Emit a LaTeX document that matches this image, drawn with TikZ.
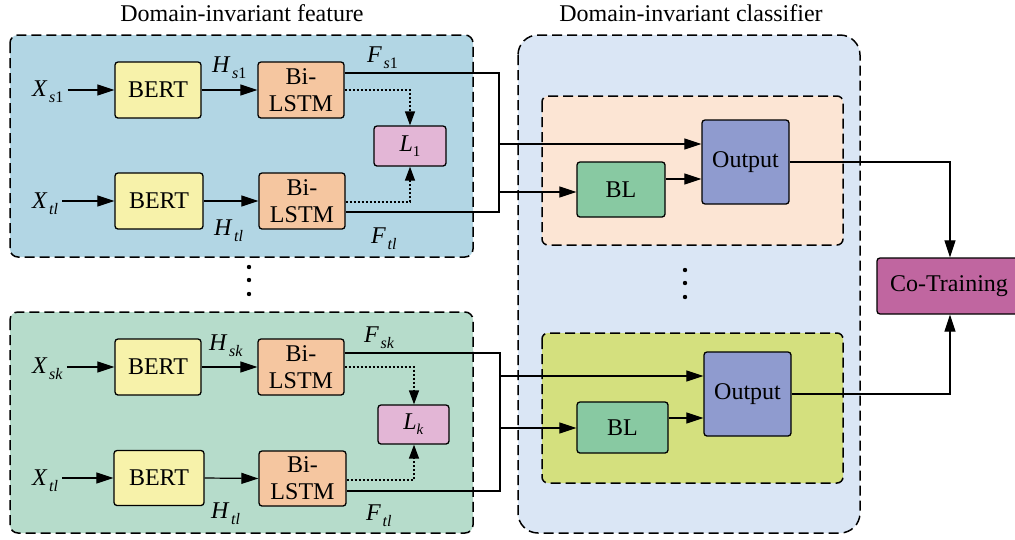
\documentclass[tikz,border=0pt]{standalone}
\usepackage{fontspec}
\setmainfont{Liberation Serif}
\usetikzlibrary{arrows.meta}
\definecolor{cPA}{RGB}{178,214,228}
\definecolor{cPB}{RGB}{182,220,203}
\definecolor{cPC}{RGB}{218,230,245}
\definecolor{cPD}{RGB}{252,229,212}
\definecolor{cPE}{RGB}{212,224,126}
\definecolor{cBERT}{RGB}{247,242,170}
\definecolor{cLSTM}{RGB}{245,198,160}
\definecolor{cLoss}{RGB}{227,182,214}
\definecolor{cBL}{RGB}{136,201,162}
\definecolor{cOut}{RGB}{143,155,207}
\definecolor{cCT}{RGB}{192,102,160}
\newcommand{\sublab}[2]{\textit{#1}\kern1.5pt\raisebox{-6.5pt}{\fontsize{16}{16}\selectfont #2}}
\begin{document}
\begin{tikzpicture}[x=1pt,y=-1pt,font=\rmfamily\fontsize{24}{27}\selectfont,
  blk/.style={draw,line width=1.3pt,rounded corners=3pt,inner sep=0pt,align=center,font=\rmfamily\fontsize{24}{27}\selectfont},
  panel/.style={draw,line width=1.5pt,dash pattern=on 10pt off 5pt},
  arr/.style={line width=1.2pt,-{Triangle[length=17pt,width=11pt]}},
  ln/.style={line width=1.2pt},
  dotarr/.style={line width=1.4pt,dash pattern=on 2pt off 2pt,-{Triangle[length=14pt,width=10pt]}},
  lab/.style={anchor=base west,inner sep=0pt},
  bertbox/.style={blk,fill=cBERT,minimum width=86pt,minimum height=56pt},
  lstmbox/.style={blk,fill=cLSTM,minimum width=86pt,minimum height=56pt},
  lossbox/.style={blk,fill=cLoss,minimum width=72pt,minimum height=40pt},
  blbox/.style={blk,fill=cBL,minimum width=88pt,minimum height=55pt},
  outbox/.style={blk,fill=cOut,minimum width=87pt,minimum height=84pt},
]
\useasboundingbox (0,0) rectangle (1015,539);
\clip (0,0) rectangle (1015,539);

% titles
\node[anchor=base] (t1) at (242,21) {Domain-invariant feature};
\node[anchor=base] (t2) at (691,21) {Domain-invariant classifier};

% panels
\draw[panel,fill=cPA,rounded corners=8pt] (10,35) rectangle (473,257);
\draw[panel,fill=cPB,rounded corners=8pt] (10,312) rectangle (473,533);
\draw[panel,fill=cPC,rounded corners=20pt] (518,35) rectangle (860,533);
\draw[panel,fill=cPD,rounded corners=6pt] (542,96) rectangle (843,245);
\draw[panel,fill=cPE,rounded corners=6pt] (542,333) rectangle (843,483);

% --- top feature block
\node[bertbox] (b1) at (158,90) {BERT};
\node[lstmbox] (l1) at (301,90) {Bi-\\LSTM};
\node[lossbox] (L1) at (410,146) {\textit{L}\raisebox{-5pt}{\fontsize{15}{15}\selectfont 1}};
\node[bertbox,minimum width=88pt] (b2) at (159,201) {BERT};
\node[lstmbox] (l2) at (302,201) {Bi-\\LSTM};

\node[lab] (xs1) at (32,96) {\sublab{X}{\textit{s}1}};
\node[lab] (xt1) at (32,208) {\sublab{X}{\textit{tl}}};
\node[lab] (hs1) at (212,72) {\sublab{H}{\textit{s}1}};
\node[lab] (ht1) at (214,235) {\sublab{H}{\textit{tl}}};
\node[lab] (fs1) at (367,62) {\sublab{F}{\textit{s}1}};
\node[lab] (ft1) at (371,243) {\sublab{F}{\textit{tl}}};

\draw[arr] ([xshift=4pt]xs1.east |- b1.west) -- (b1.west);
\draw[arr] ([xshift=4pt]xt1.east |- b2.west) -- (b2.west);
\draw[arr] (b1.east) -- (l1.west);
\draw[arr] (b2.east) -- (l2.west);

\coordinate (da) at (410,90);
\coordinate (db) at (410,202);
\draw[dotarr] (l1.east |- da) -- (da) -- (da |- L1.north);
\draw[dotarr] (l2.east |- db) -- (db) -- (db |- L1.south);

% --- bottom feature block
\node[bertbox] (b3) at (158,367) {BERT};
\node[lstmbox] (l3) at (301,367) {Bi-\\LSTM};
\node[lossbox,minimum width=71pt,minimum height=39pt] (Lk) at (413.5,424.5) {\textit{L}\raisebox{-5pt}{\fontsize{15}{15}\selectfont\textit{k}}};
\node[bertbox,minimum width=90pt,minimum height=55pt] (b4) at (159,478) {BERT};
\node[lstmbox,minimum width=87pt,minimum height=55pt] (l4) at (302.5,478.5) {Bi-\\LSTM};

\node[lab] (xsk) at (32,373) {\sublab{X}{\textit{sk}}};
\node[lab] (xt2) at (32,485) {\sublab{X}{\textit{tl}}};
\node[lab] (hsk) at (209,350) {\sublab{H}{\textit{sk}}};
\node[lab] (ht2) at (211,518) {\sublab{H}{\textit{tl}}};
\node[lab] (fsk) at (364,342) {\sublab{F}{\textit{sk}}};
\node[lab] (ft2) at (366,520) {\sublab{F}{\textit{tl}}};

\draw[arr] ([xshift=4pt]xsk.east |- b3.west) -- (b3.west);
\draw[arr] ([xshift=4pt]xt2.east |- b4.west) -- (b4.west);
\draw[arr] (b3.east) -- (l3.west);
\draw[arr] (b4.east) -- (l4.west);

\coordinate (dc) at (414,367);
\coordinate (dd) at (414,480);
\draw[dotarr] (l3.east |- dc) -- (dc) -- (dc |- Lk.north);
\draw[dotarr] (l4.east |- dd) -- (dd) -- (dd |- Lk.south);

% vertical dots
\foreach \yy in {267,280,294} \fill (249,\yy) circle (2.2pt);
\foreach \yy in {270,283,297} \fill (685,\yy) circle (2.2pt);

% --- classifier blocks
\node[blbox] (bl1) at (621,189.5) {BL};
\node[outbox] (o1) at (745.5,162) {Output};
\node[blbox,minimum width=91pt,minimum height=51pt] (bl2) at (622.5,427.5) {BL};
\node[outbox] (o2) at (747.5,394) {Output};
\node[blk,fill=cCT,minimum width=144pt,minimum height=56pt] (ct) at (949,286) {Co-Training};

% connectors top
\coordinate (ja) at (499,73);
\coordinate (jb) at (499,212);
\coordinate (jc) at (499,144);
\coordinate (jd) at (499,192);
\draw[ln] (l1.east |- ja) -- (ja) -- (jb) -- (l2.east |- jb);
\draw[arr] (jc) -- (o1.west |- jc);
\draw[arr] (jd) -- (bl1.west |- jd);
\coordinate (je) at (665,179);
\draw[arr] (bl1.east |- je) -- (o1.west |- je);
\coordinate (jf) at (950,162);
\draw[arr] (o1.east |- jf) -- (jf) -- (jf |- ct.north);

% connectors bottom
\coordinate (ka) at (500,353);
\coordinate (kb) at (500,491);
\coordinate (kc) at (500,376);
\coordinate (kd) at (500,428);
\draw[ln] (l3.east |- ka) -- (ka) -- (kb) -- (l4.east |- kb);
\draw[arr] (kc) -- (o2.west |- kc);
\draw[arr] (kd) -- (bl2.west |- kd);
\coordinate (ke) at (668,418);
\draw[arr] (bl2.east |- ke) -- (o2.west |- ke);
\coordinate (kf) at (950,394);
\draw[arr] (o2.east |- kf) -- (kf) -- (kf |- ct.south);
\end{tikzpicture}
\end{document}
